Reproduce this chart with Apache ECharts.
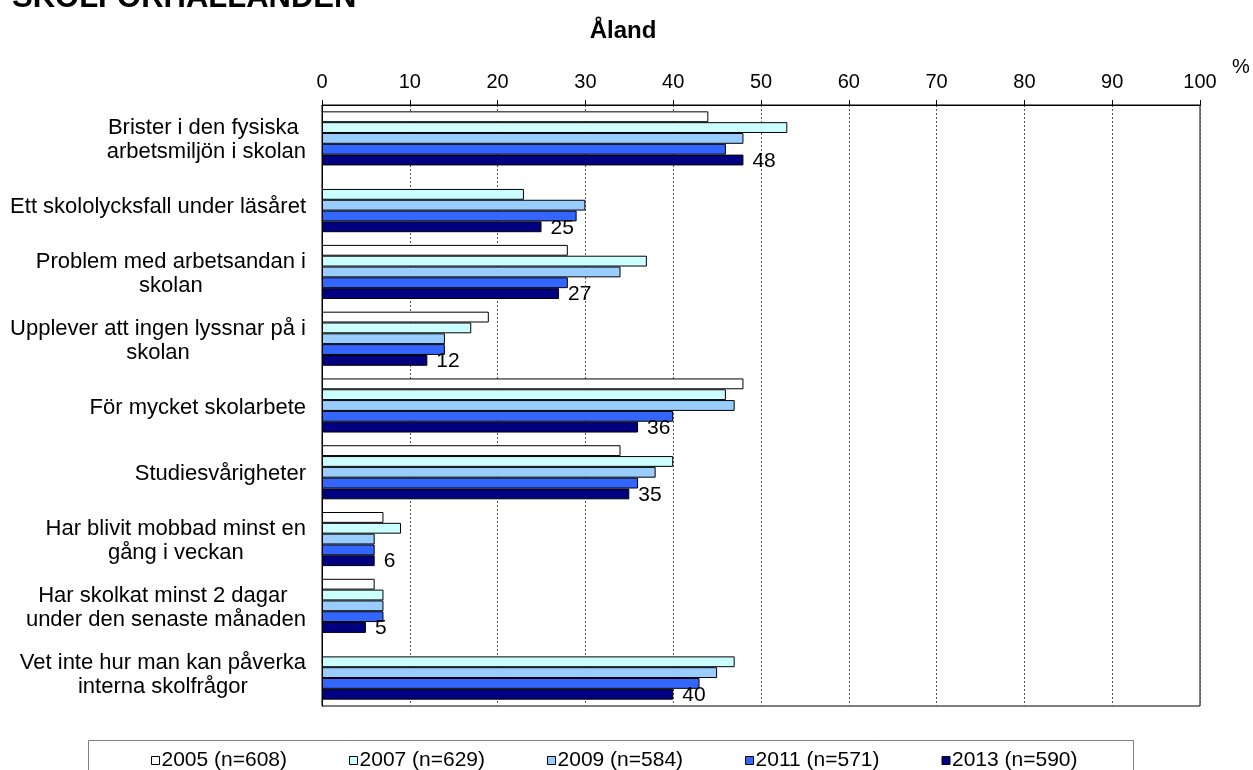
<!DOCTYPE html>
<html>
<head>
<meta charset="utf-8">
<script src="https://cdn.jsdelivr.net/npm/echarts@6/dist/echarts.min.js"></script>
<style>
  html, body { margin: 0; padding: 0; background: #fff; }
  #chart { width: 1253px; height: 770px; }
</style>
</head>
<body>
<div id="chart"></div>
<script>
// Survey items (y axis, top to bottom)
const categories = [
  'Brister i den fysiska \narbetsmiljön i skolan',
  'Ett skololycksfall under läsåret',
  'Problem med arbetsandan i\nskolan',
  'Upplever att ingen lyssnar på i\nskolan',
  'För mycket skolarbete',
  'Studiesvårigheter',
  'Har blivit mobbad minst en\ngång i veckan',
  'Har skolkat minst 2 dagar \nunder den senaste månaden',
  'Vet inte hur man kan påverka\ninterna skolfrågor'
];

// Survey rounds
const seriesNames = ['2005 (n=608)', '2007 (n=629)', '2009 (n=584)', '2011 (n=571)', '2013 (n=590)'];

// Share of pupils (%) per round; null = item not asked that year
const v2005 = [44, null, 28, 19, 48, 34, 7, 6, null];
const v2007 = [53, 23, 37, 17, 46, 40, 9, 7, 47];
const v2009 = [48, 30, 34, 14, 47, 38, 6, 7, 45];
const v2011 = [46, 29, 28, 14, 40, 36, 6, 7, 43];
const v2013 = [48, 25, 27, 12, 36, 35, 6, 5, 40];

const seriesValues = [v2005, v2007, v2009, v2011, v2013];
const seriesColors = ['#FFFFFF', '#CCFFFF', '#99CCFF', '#3366FF', '#000080'];

// Percent axis
const axisMin = 0, axisMax = 100, axisStep = 10;

const FONT = '"Liberation Sans", Arial, sans-serif';

const chart = echarts.init(document.getElementById('chart'), null, { renderer: 'canvas' });

const series = seriesValues.map((vals, i) => ({
  name: seriesNames[i],
  type: 'bar',
  data: vals,
  barGap: '0%',
  barCategoryGap: '19%',
  itemStyle: { color: seriesColors[i], borderColor: '#000', borderWidth: 1 },
  label: i === seriesValues.length - 1 ? {
    show: true,
    position: 'right',
    distance: 9,
    color: '#000',
    fontFamily: FONT,
    fontSize: 21,
    offset: [0, 1]
  } : { show: false },
  emphasis: { disabled: true }
}));

chart.setOption({
  animation: false,
  backgroundColor: '#fff',
  textStyle: { fontFamily: FONT },
  grid: {
    left: 322, right: 53, top: 105, bottom: 64,
    show: true, borderColor: '#000', borderWidth: 1, backgroundColor: 'transparent'
  },
  xAxis: {
    type: 'value',
    position: 'top',
    min: axisMin, max: axisMax, interval: axisStep,
    axisLine: { show: true, lineStyle: { color: '#000', width: 1 } },
    axisTick: { show: true, length: 5, lineStyle: { color: '#000' } },
    axisLabel: { color: '#000', fontSize: 20, fontFamily: FONT, margin: 13 },
    splitLine: { show: true, lineStyle: { color: '#555', type: [2, 2], width: 1 } }
  },
  yAxis: {
    type: 'category',
    data: categories,
    inverse: true,
    axisLine: { show: true, lineStyle: { color: '#000', width: 1 } },
    axisTick: { show: false },
    axisLabel: {
      color: '#000',
      fontSize: 22,
      fontFamily: FONT,
      margin: 16,
      lineHeight: 24,
      padding: [4, 0, 0, 0],
      formatter: (v) => v.split('\n').map(s => '{c|' + s + '}').join('\n'),
      rich: { c: { align: 'center', fontSize: 22, lineHeight: 24, color: '#000', fontFamily: FONT } }
    }
  },
  legend: {
    data: seriesNames,
    orient: 'horizontal',
    left: 151, top: 750,
    padding: 0,
    itemWidth: 8, itemHeight: 8, itemGap: 62,
    icon: 'rect',
    itemStyle: { borderColor: '#000', borderWidth: 1 },
    textStyle: { color: '#000', fontSize: 21, fontFamily: FONT, padding: [0, 0, 0, -3] },
    selectedMode: false
  },
  graphic: [
    {
      type: 'text', left: 12, top: -17,
      style: { text: 'SKOLFÖRHÅLLANDEN', font: 'bold 31px ' + FONT, fill: '#000' }
    },
    {
      type: 'text', x: 623, y: 31,
      style: { text: 'Åland', font: 'bold 24px ' + FONT, fill: '#000', align: 'center', verticalAlign: 'middle' }
    },
    {
      type: 'text', x: 1241, y: 67,
      style: { text: '%', font: '20px ' + FONT, fill: '#000', align: 'center', verticalAlign: 'middle' }
    },
    {
      type: 'rect', shape: { x: 88.5, y: 740.5, width: 1045, height: 40 },
      style: { fill: 'none', stroke: '#808080', lineWidth: 1 }, silent: true
    }
  ],
  series: series
});
</script>
</body>
</html>
